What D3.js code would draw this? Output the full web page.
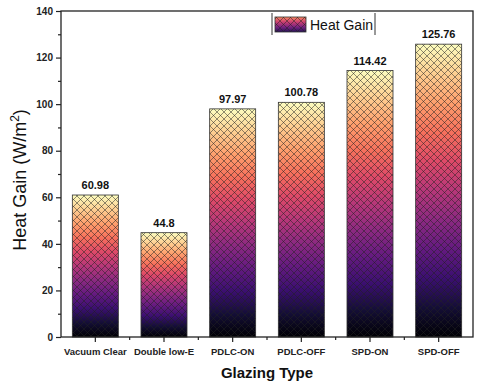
<!DOCTYPE html>
<html><head><meta charset="utf-8">
<script src="https://cdn.jsdelivr.net/npm/d3@7"></script>
<style>body{margin:0;background:#fff}svg{display:block;font-family:"Liberation Sans",Arial,sans-serif}</style>
</head><body><svg id="c" width="480" height="386"></svg>
<script>
const categories = ["Vacuum Clear","Double low-E","PDLC-ON","PDLC-OFF","SPD-ON","SPD-OFF"];
const values = [60.98,44.8,97.97,100.78,114.42,125.76];
const valueLabels = ["60.98","44.8","97.97","100.78","114.42","125.76"];
const yTicks = [0,20,40,60,80,100,120,140];
const seriesName = "Heat Gain";

const svg = d3.select("#c");
const m = {l:61, r:7, t:11, b:49};
const W = 480, H = 386;
const x = d3.scaleBand().domain(categories).range([m.l, W-m.r]).paddingInner(0.33).paddingOuter(0.165);
const xb = d3.scaleBand().domain(categories).range([m.l, W-m.r]);
const y = d3.scaleLinear().domain([0,140]).range([H-m.b, m.t]);

const defs = svg.append("defs");
const grad = defs.append("linearGradient").attr("id","mag").attr("x1",0).attr("y1",1).attr("x2",0).attr("y2",0);
d3.range(0,1.0001,0.1).forEach(t=>grad.append("stop").attr("offset",t).attr("stop-color",d3.interpolateMagma(t)));
const pat = defs.append("pattern").attr("id","hatch").attr("patternUnits","userSpaceOnUse").attr("width",7).attr("height",7);
pat.append("path").attr("d","M0,0L7,7M7,0L0,7").attr("stroke","#222").attr("stroke-width",0.6).attr("stroke-opacity",0.85);

// bars
const g = svg.append("g");
categories.forEach((c,i)=>{
  const bx = x(c), bw = x.bandwidth(), by = y(values[i]), bh = y(0)-y(values[i]);
  g.append("rect").attr("x",bx).attr("y",by).attr("width",bw).attr("height",bh).attr("fill","url(#mag)");
  g.append("rect").attr("x",bx).attr("y",by).attr("width",bw).attr("height",bh).attr("fill","url(#hatch)").attr("stroke","#333").attr("stroke-width",0.8);
  g.append("text").attr("x",bx+bw/2).attr("y",by-6).attr("text-anchor","middle").attr("font-size",11).attr("font-weight","bold").attr("fill","#111").text(valueLabels[i]);
});

// frame
svg.append("rect").attr("x",m.l).attr("y",m.t).attr("width",W-m.r-m.l).attr("height",H-m.b-m.t).attr("fill","none").attr("stroke","#222").attr("stroke-width",1.3);

// y axis
const ya = d3.axisLeft(y).tickValues(yTicks).tickSize(5).tickSizeOuter(0).tickFormat(d3.format("d"));
const yg = svg.append("g").attr("transform",`translate(${m.l},0)`).call(ya);
yg.select(".domain").remove();
yg.selectAll("line").attr("stroke","#222").attr("stroke-width",1.2);
yg.selectAll("text").attr("font-size",10).attr("font-weight","bold").attr("fill","#222").attr("font-family","Liberation Sans, Arial");
const yminor = d3.axisLeft(y).tickValues(d3.range(10,140,20)).tickSize(3).tickFormat("");
const ymg = svg.append("g").attr("transform",`translate(${m.l},0)`).call(yminor);
ymg.select(".domain").remove(); ymg.selectAll("line").attr("stroke","#222").attr("stroke-width",1.2);

// x axis
const xa = d3.axisBottom(x).tickSize(5).tickSizeOuter(0);
const xg = svg.append("g").attr("transform",`translate(0,${H-m.b})`).call(xa);
xg.select(".domain").remove();
xg.selectAll("line").attr("stroke","#222").attr("stroke-width",1.2);
xg.selectAll("text").attr("font-size",9.5).attr("font-weight","bold").attr("fill","#222").attr("dy","1.05em").attr("font-family","Liberation Sans, Arial");
// minor x ticks at boundaries
const bounds = categories.slice(1).map(c=>xb(c));
svg.append("g").selectAll("line").data(bounds).join("line")
  .attr("x1",d=>d).attr("x2",d=>d).attr("y1",H-m.b).attr("y2",H-m.b+3).attr("stroke","#222").attr("stroke-width",1.2);

// titles
svg.append("text").attr("x",(m.l+W-m.r)/2).attr("y",378).attr("text-anchor","middle").attr("font-size",15).attr("font-weight","bold").attr("fill","#111").text("Glazing Type");
const yt = svg.append("text").attr("transform",`translate(26,180) rotate(-90)`).attr("text-anchor","middle").attr("font-size",18).attr("fill","#111");
yt.append("tspan").text("Heat Gain (W/m");
yt.append("tspan").attr("font-size",12).attr("dy",-7).text("2");
yt.append("tspan").attr("dy",7).text(")");

// legend
const lg = svg.append("g");
lg.append("line").attr("x1",272).attr("x2",272).attr("y1",13).attr("y2",35).attr("stroke","#333").attr("stroke-width",1);
lg.append("line").attr("x1",375).attr("x2",375).attr("y1",13).attr("y2",35).attr("stroke","#333").attr("stroke-width",1);
const lgrad = defs.append("linearGradient").attr("id","lmag").attr("x1",0).attr("y1",1).attr("x2",0).attr("y2",0);
[0.15,0.35,0.55,0.75].forEach((t,i)=>lgrad.append("stop").attr("offset",i/3).attr("stop-color",d3.interpolateMagma(t)));
lg.append("rect").attr("x",275).attr("y",17).attr("width",31).attr("height",15).attr("fill","url(#lmag)");
lg.append("rect").attr("x",275).attr("y",17).attr("width",31).attr("height",15).attr("fill","url(#hatch)").attr("stroke","#333").attr("stroke-width",0.8);
lg.append("text").attr("x",310).attr("y",29.5).attr("font-size",14).attr("fill","#111").text(seriesName);
</script></body></html>
